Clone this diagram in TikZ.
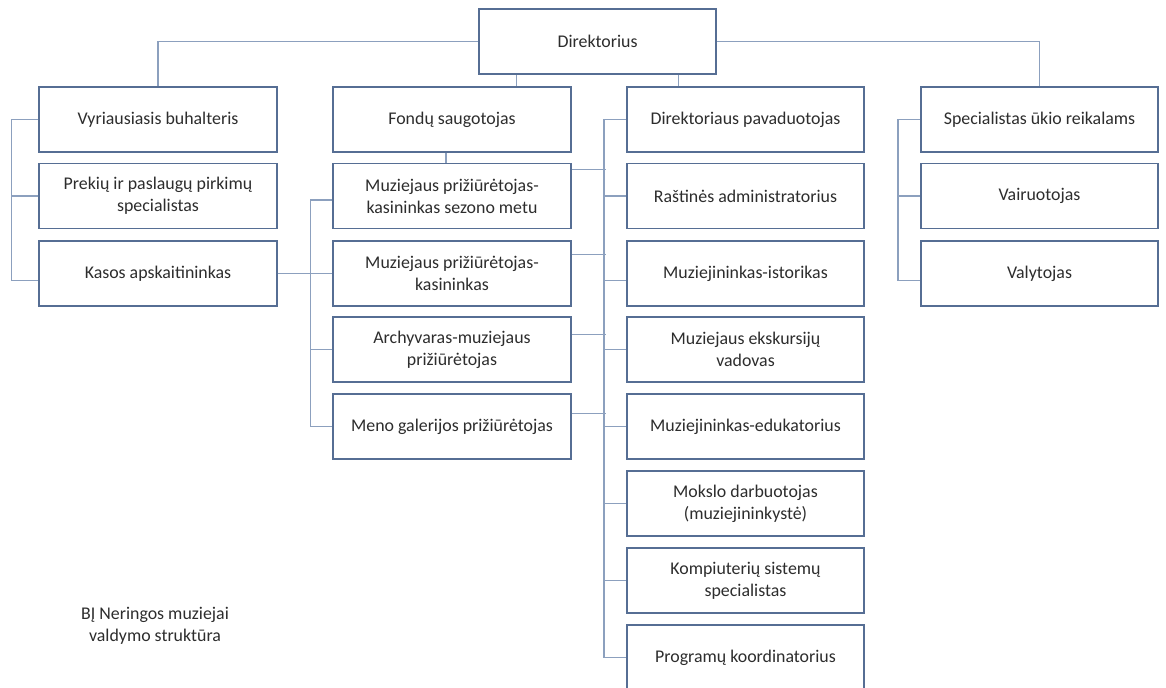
\documentclass[tikz,border=0pt]{standalone}
\usepackage{fontspec}
\setmainfont{Carlito}
\usepackage{tikz}

\definecolor{boxline}{RGB}{86,110,148}
\definecolor{linkline}{RGB}{140,160,190}
\definecolor{labeltext}{RGB}{45,45,45}

\tikzset{
  orgbox/.style={draw=boxline, line width=1.3pt, fill=white, minimum width=178pt,
    minimum height=48.75pt, inner sep=2pt, align=center, text=labeltext,
    font=\fontsize{13.4}{16.5}\selectfont},
  link/.style={draw=linkline, line width=0.8pt}
}

\begin{document}
\begin{tikzpicture}[x=0.75pt,y=-0.75pt]
    \useasboundingbox (0,0) rectangle (1166,687);
    \fill[white] (0,0) rectangle (1166,687);

    % director
    \node[orgbox] (dir) at (597.5,41.5) {Direktorius};

    % accounting
    \node[orgbox] (vb)  at (158,119.5) {Vyriausiasis buhalteris};
    \node[orgbox] (pps) at (158,196)   {Prekių ir paslaugų pirkimų\\specialistas};
    \node[orgbox] (ka)  at (158,273.5) {Kasos apskaitininkas};

    % funds
    \node[orgbox] (fs)  at (452,119.5) {Fondų saugotojas};
    \node[orgbox] (mps) at (452,196)   {Muziejaus prižiūrėtojas-\\kasininkas sezono metu};
    \node[orgbox] (mpk) at (452,273.5) {Muziejaus prižiūrėtojas-\\kasininkas};
    \node[orgbox] (amp) at (452,349.5) {Archyvaras-muziejaus\\prižiūrėtojas};
    \node[orgbox] (mgp) at (452,426.5) {Meno galerijos prižiūrėtojas};

    % deputy
    \node[orgbox] (dp)  at (745.5,119.5) {Direktoriaus pavaduotojas};
    \node[orgbox] (ra)  at (745.5,196)   {Raštinės administratorius};
    \node[orgbox] (mi)  at (745.5,273.5) {Muziejininkas-istorikas};
    \node[orgbox] (mev) at (745.5,349.5) {Muziejaus ekskursijų\\vadovas};
    \node[orgbox] (me)  at (745.5,426.5) {Muziejininkas-edukatorius};
    \node[orgbox] (md)  at (745.5,503.5) {Mokslo darbuotojas\\(muziejininkystė)};
    \node[orgbox] (ksp) at (745.5,580.5) {Kompiuterių sistemų\\specialistas};
    \node[orgbox] (pk)  at (745.5,657.5) {Programų koordinatorius};

    % household
    \node[orgbox] (suk) at (1039.5,119.5) {Specialistas ūkio reikalams};
    \node[orgbox] (vai) at (1039.5,196)   {Vairuotojas};
    \node[orgbox] (val) at (1039.5,273.5) {Valytojas};

    \node[align=center, text=labeltext, font=\fontsize{13.4}{16.5}\selectfont] (title) at (155,626)
      {BĮ Neringos muziejai\\valdymo struktūra};

    % links from director
    \draw[link] (dir.west) -| (vb.north);
    \draw[link] (dir.east) -| (suk.north);
    \draw[link] ([xshift=-60.5pt]dir.south) -- ([xshift=-60.5pt]dir.south |- fs.north);
    \draw[link] ([xshift=61pt]dir.south) -- ([xshift=61pt]dir.south |- dp.north);

    % left bus
    \draw[link] (vb.west) -- ++(-27,0) |- ([yshift=-5pt]ka.west);
    \draw[link] (pps.west) -- ++(-27,0);
    \draw[link] (ka.east) -- (mpk.west);

    % funds bus
    \draw[link] ([xshift=-4.5pt]fs.south) -- ([xshift=-4.5pt]mps.north);
    \draw[link] ([yshift=-3pt]mps.west) -- ++(-22,0) |- (mgp.west);
    \draw[link] (amp.west) -- ++(-22,0);
    \draw[link] ([yshift=20pt]mps.east) -- ++(34,0);
    \draw[link] ([yshift=14pt]mpk.east) -- ++(34,0);
    \draw[link] ([yshift=11pt]amp.east) -- ++(34,0);
    \draw[link] ([yshift=10pt]mgp.east) -- ++(34,0);

    % deputy bus
    \draw[link] (dp.west) -- ++(-22,0) |- (pk.west);
    \draw[link] ([yshift=-5pt]mi.west) -- ++(-22,0);
    \foreach \n in {ra,mev,me,md,ksp}
      \draw[link] (\n.west) -- ++(-22,0);

    % household bus
    \draw[link] (suk.west) -- ++(-22,0) |- ([yshift=-5pt]val.west);
    \draw[link] (vai.west) -- ++(-22,0);
\end{tikzpicture}
\end{document}
